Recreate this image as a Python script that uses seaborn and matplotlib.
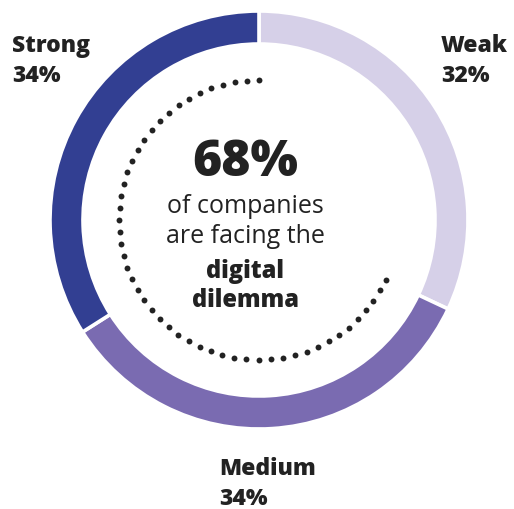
import numpy as np
import matplotlib
matplotlib.use("Agg")
import matplotlib.pyplot as plt
import seaborn as sns

# Data
categories = ["Weak", "Medium", "Strong"]
shares = [32, 34, 34]
colors = ["#D6D0E8", "#7A6BB1", "#323F92"]
headline_value = 68
center_lines = ["of companies", "are facing the", "digital", "dilemma"]

sns.set_theme(style="white")
plt.rcParams['font.family'] = ['Open Sans', 'DejaVu Sans']
TXT = "#222222"

W, H = 514, 510
cx, cy = 259, 221
fig = plt.figure(figsize=(W / 100, H / 100), dpi=100)
ax = fig.add_axes([0, 0, 1, 1])

ax.pie(shares, colors=colors, startangle=90, counterclock=False, radius=209,
       wedgeprops=dict(width=33, edgecolor="white", linewidth=2.6))

ax.set_xlim(-cx, W - cx)
ax.set_ylim(-(H - cy), cy)
ax.set_aspect("equal")
ax.axis("off")

# dotted arc for the 68%
theta = np.deg2rad(np.linspace(90, 90 + 360 * headline_value / 100, 50))
ax.scatter(140 * np.cos(theta), 140 * np.sin(theta), s=18, color=TXT, lw=0, zorder=3)

def Y(y):
    return cy - y

def X(x):
    return x - cx

tx = X(245)
ax.text(tx, Y(176), f"{headline_value}%", ha="center", va="baseline", fontsize=36,
        fontweight=800, color=TXT)
ax.text(tx, Y(213), center_lines[0], ha="center", va="baseline", fontsize=18, color=TXT)
ax.text(tx, Y(243), center_lines[1], ha="center", va="baseline", fontsize=18, color=TXT)
ax.text(tx, Y(278), center_lines[2], ha="center", va="baseline", fontsize=17, fontweight=800, color=TXT)
ax.text(tx, Y(307), center_lines[3], ha="center", va="baseline", fontsize=17, fontweight=800, color=TXT)

label_pos = {"Strong": (12, 52), "Weak": (441, 52), "Medium": (219, 475)}
for cat, val in zip(categories, shares):
    x, y = label_pos[cat]
    ax.text(X(x), Y(y), cat, ha="left", va="baseline", fontsize=16.5, fontweight=800, color=TXT)
    ax.text(X(x), Y(y + 30), f"{val}%", ha="left", va="baseline", fontsize=16.5, fontweight=800, color=TXT)

fig.savefig("out.png", dpi=100, facecolor="white")
